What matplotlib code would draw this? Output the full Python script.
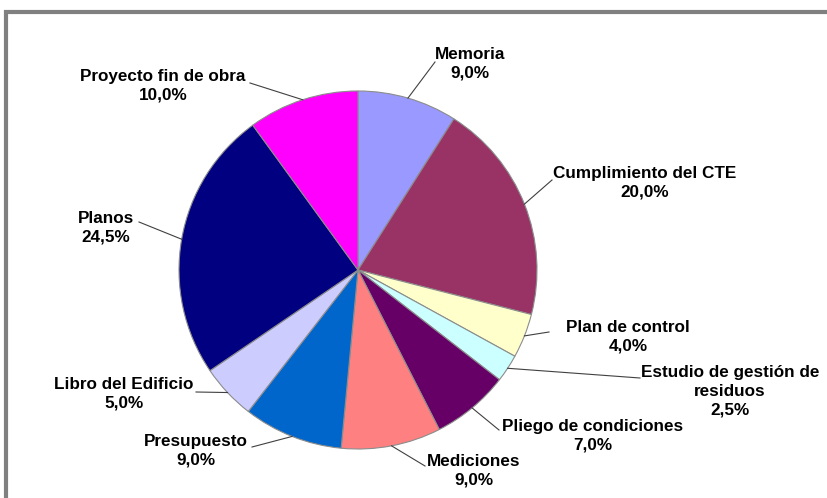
import numpy as np
import matplotlib
matplotlib.use("Agg")
import matplotlib.pyplot as plt
from matplotlib.patches import Rectangle

# data, clockwise from 12 o'clock
labels = ["Memoria", "Cumplimiento del CTE", "Plan de control",
          "Estudio de gestión de\nresiduos", "Pliego de condiciones",
          "Mediciones", "Presupuesto", "Libro del Edificio", "Planos",
          "Proyecto fin de obra"]
values = [9.0, 20.0, 4.0, 2.5, 7.0, 9.0, 9.0, 5.0, 24.5, 10.0]
colors = ["#9999FF", "#993366", "#FFFFCC", "#CCFFFF", "#660066",
          "#FF8080", "#0066CC", "#CCCCFF", "#000080", "#FF00FF"]

# layout (pixel coords, y from top): text centre and leader attach point
text_pos = [(470, 64), (645, 183), (628, 337), (730, 391), (593, 436),
            (474, 471), (196, 451), (124, 394), (106, 228), (163, 86)]
attach = [(435, 62), (552, 180), (549, 332), (640, 378), (499, 430),
          (425, 466), (252, 447), (196, 392), (139, 222), (250, 83)]

W, H = 827, 498
CX, CY, R = 358, 270, 179

fig = plt.figure(figsize=(W / 100, H / 100), dpi=100)
ax = fig.add_axes([0, 0, 1, 1])

# frame of the chart area (cut at right/bottom)
ax.add_patch(Rectangle((6, -20), W + 20, H - 12 + 20, fill=False,
                       edgecolor="#808080", linewidth=3))

wedges, _ = ax.pie(values, colors=colors, startangle=90, counterclock=False,
                   center=(CX, H - CY), radius=R, frame=True,
                   wedgeprops={"edgecolor": "#8c8c8c", "linewidth": 0.8})
ax.set_xlim(0, W)
ax.set_ylim(0, H)
ax.set_aspect("equal")
ax.axis("off")

for w, lab, v, (tx, ty), (axp, ayp) in zip(wedges, labels, values, text_pos, attach):
    mid = np.deg2rad((w.theta1 + w.theta2) / 2)
    ex = CX + R * np.cos(mid)
    ey = (H - CY) + R * np.sin(mid)
    ax.plot([ex, axp], [ey, H - ayp], color="#404040", linewidth=0.8)
    txt = f"{lab}\n{v:.1f}%".replace(".", ",")
    ax.text(tx, H - ty, txt, ha="center", va="center", multialignment="center",
            fontsize=12.3, fontweight="bold", family=["Liberation Sans", "DejaVu Sans"],
            linespacing=1.32, color="#000000")

fig.savefig("out.png", dpi=100)
